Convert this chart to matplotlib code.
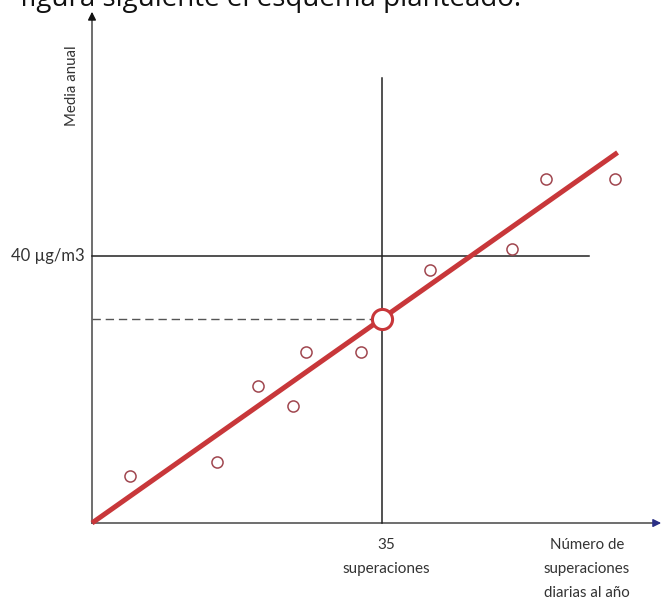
import matplotlib
matplotlib.use("Agg")
import matplotlib.pyplot as plt

# ---- data (units: x = exceedances per year, y = annual mean) ----
obs_x = [4.6, 15.1, 20.1, 24.3, 25.8, 32.5, 40.8, 50.7, 54.9, 63.2]
obs_y = [7.0, 9.2, 20.5, 17.5, 25.6, 25.6, 37.9, 41.0, 51.5, 51.5]
fit_x = [0, 63.5]
fit_y = [0, 55.5]
limit_exceed = 35          # superaciones
limit_mean = 40            # µg/m3
mean_at_limit = 30.6       # value of fit at 35
hline_end = 60
vline_top = 66.7
xaxis_end = 69.1
yaxis_end = 77.0

title = "figura siguiente el esquema planteado."
ylabel = "Media anual"
ytick_label = "40 µg/m3"
xtick_label = "35\nsuperaciones"
xlabel = "Número de\nsuperaciones\ndiarias al año"

plt.rcParams['font.family'] = ['Lato', 'DejaVu Sans']

fig = plt.figure(figsize=(6.64, 6.07), dpi=100)
ax = fig.add_axes([0, 0, 1, 1])
ax.set_xlim(-11.115, 69.11)
ax.set_ylim(-12.58, 78.35)
ax.axis('off')

# axes
ax.plot([0, xaxis_end - 1.2], [0, 0], color='#555555', lw=1.2, zorder=2)
ax.annotate('', xy=(xaxis_end, 0), xytext=(xaxis_end - 1.5, 0),
            arrowprops=dict(arrowstyle='-|>', color='#2b2f86', lw=1.0,
                            mutation_scale=12), zorder=3)
ax.plot([0, 0], [0, yaxis_end - 1.5], color='#555555', lw=1.2, zorder=2)
ax.annotate('', xy=(0, yaxis_end), xytext=(0, yaxis_end - 2),
            arrowprops=dict(arrowstyle='-|>', color='#111111', lw=1.0,
                            mutation_scale=12), zorder=3)

# reference lines
ax.plot([limit_exceed, limit_exceed], [0, vline_top], color='#222222', lw=1.1, zorder=2)
ax.plot([0, hline_end], [limit_mean, limit_mean], color='#222222', lw=1.1, zorder=2)
ax.plot([0, limit_exceed], [mean_at_limit, mean_at_limit], color='#555555', lw=1.0,
        dashes=(6, 3.5), zorder=2)

# fit line
ax.plot(fit_x, fit_y, color='#c8373a', lw=3.6, solid_capstyle='butt', zorder=4)

# observations
ax.plot(obs_x, obs_y, 'o', ms=8, mfc='white', mec='#a0464f', mew=1.1, zorder=5,
        linestyle='none')

# highlighted point
ax.plot([limit_exceed], [mean_at_limit], 'o', ms=14.5, mfc='white', mec='#c8373a',
        mew=2.2, zorder=6)

# texts
txt_color = '#333333'
ax.text(-0.85, limit_mean, ytick_label, ha='right', va='center', fontsize=12,
        color=txt_color)
ax.text(-2.4, 65.5, ylabel, rotation=90, ha='center', va='center', fontsize=10.8,
        color=txt_color)
ax.text(35.5, -2.25, xtick_label, ha='center', va='top', fontsize=11,
        color=txt_color, linespacing=1.9)
ax.text(59.8, -2.25, xlabel, ha='center', va='top', fontsize=10.8,
        color=txt_color, linespacing=1.9)

fig.text(20 / 664, 1 - 6 / 607, title, ha='left', va='baseline', fontsize=20,
         color='#111111', family=['Open Sans', 'DejaVu Sans'])

fig.savefig('out.png', dpi=100)
